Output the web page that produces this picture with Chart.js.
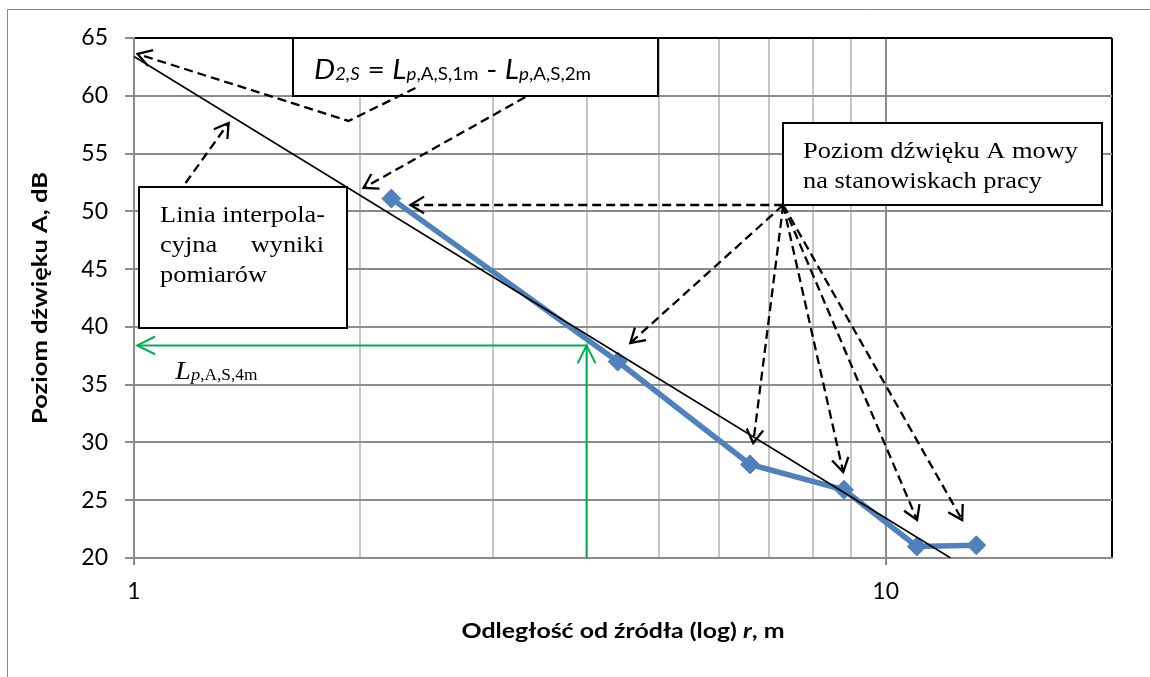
<!DOCTYPE html>
<html><head><meta charset="utf-8">
<script src="https://cdn.jsdelivr.net/npm/chart.js@4.4.1/dist/chart.umd.min.js"></script>
<style>html,body{margin:0;padding:0;background:#fff;}#wrap{width:1150px;height:677px;}</style>
</head><body><div id="wrap"><canvas id="c" width="1150" height="677"></canvas></div>
<script>
// ---- data ----
const distances = [2.2, 4.4, 6.6, 8.8, 11.0, 13.2];
const levels = [51.1, 37.0, 28.1, 25.9, 21.0, 21.1];
const fitDistances = [1, 12.2];
const fitLevels = [63.4, 20];
const refDistance = 4;
const refLevel = 38.4;
const axisMinLevel = 20;
const yTickValues = [20, 25, 30, 35, 40, 45, 50, 55, 60, 65];
const xTickValues = [1, 2, 3, 4, 5, 6, 7, 8, 9, 10, 20];
const xTickLabels = ['1', '', '', '', '', '', '', '', '', '10', ''];

// annotation geometry (data units)
const boxFormula = {x1: 1.625, x2: 4.98, y1: 60, y2: 65};
const boxSpeech = {x1: 7.305, x2: 19.41, y1: 50.55, y2: 57.64};
const boxFit = {x1: 1.014, x2: 1.922, y1: 39.9, y2: 52.11};
const dashedArrows = [
  [[2.368, 60.67], [1.929, 57.82], [1.011, 63.62]],
  [[3.316, 59.89], [2.020, 52.02]],
  [[1.171, 52.45], [1.336, 57.64]],
  [[7.305, 50.55], [2.332, 50.55]],
  [[7.305, 50.55], [4.574, 38.61]],
  [[7.305, 50.55], [6.664, 29.95]],
  [[7.305, 50.55], [8.779, 27.44]],
  [[7.305, 50.55], [11.01, 23.29]],
  [[7.305, 50.55], [12.64, 23.29]]
];
const labelL4 = {x: 1.135, y: 35.5};

const GRID = '#8c8c8c', MINOR = '#c6c6c6';

function runs(ctx, x, y, parts, target) {
  let w = 0;
  parts.forEach(p => { ctx.font = p.f; p.w = ctx.measureText(p.t).width; w += p.w; });
  const sx = target ? target / w : 1;
  ctx.save(); ctx.translate(x, y); ctx.scale(sx, 1);
  ctx.textBaseline = 'alphabetic'; ctx.textAlign = 'left';
  let cx = 0;
  parts.forEach(p => { ctx.font = p.f; ctx.fillText(p.t, cx, p.dy || 0); cx += p.w; });
  ctx.restore();
  return sx;
}
function head(ctx, fx, fy, tx, ty, len, ang) {
  const d = Math.atan2(ty - fy, tx - fx);
  ctx.beginPath();
  ctx.moveTo(tx - len * Math.cos(d - ang), ty - len * Math.sin(d - ang));
  ctx.lineTo(tx, ty);
  ctx.lineTo(tx - len * Math.cos(d + ang), ty - len * Math.sin(d + ang));
  ctx.stroke();
}

const annotPlugin = {
  id: 'annot',
  beforeDraw(chart) {
    const ctx = chart.ctx;
    ctx.save();
    ctx.fillStyle = '#fff'; ctx.fillRect(0, 0, chart.width, chart.height);
    ctx.strokeStyle = '#868686'; ctx.lineWidth = 1;
    ctx.beginPath(); ctx.moveTo(7.5, 677); ctx.lineTo(7.5, 9.5); ctx.lineTo(1150, 9.5); ctx.stroke();
    ctx.restore();
  },
  beforeDatasetsDraw(chart) {
    const ctx = chart.ctx, xs = chart.scales.x, ys = chart.scales.y;
    const box = b => {
      const l = Math.round(xs.getPixelForValue(b.x1)), r = Math.round(xs.getPixelForValue(b.x2));
      const t = Math.round(ys.getPixelForValue(b.y2)), bt = Math.round(ys.getPixelForValue(b.y1));
      ctx.fillStyle = '#fff'; ctx.fillRect(l, t, r - l, bt - t);
      ctx.strokeStyle = '#000'; ctx.lineWidth = 2; ctx.strokeRect(l, t, r - l, bt - t);
      return {l, r, t, b: bt};
    };
    ctx.save();
    const b1 = box(boxFormula), b2 = box(boxSpeech), b3 = box(boxFit);
    ctx.fillStyle = '#000';
    const big = 'italic 27px Lato', sub = '17px Lato', subi = 'italic 17px Lato', reg = '27px Lato';
    runs(ctx, b1.l + 21, b1.t + 41, [
      {t: 'D', f: big}, {t: '2,S', f: subi, dy: 1}, {t: ' = ', f: reg},
      {t: 'L', f: big}, {t: 'p', f: subi, dy: 1}, {t: ',A,S,1m', f: sub, dy: 1}, {t: ' - ', f: reg},
      {t: 'L', f: big}, {t: 'p', f: subi, dy: 1}, {t: ',A,S,2m', f: sub, dy: 1}
    ], 277);
    const serif = '23px "Liberation Serif"';
    const sx = runs(ctx, b2.l + 20, b2.t + 35, [{t: 'Poziom dźwięku A mowy', f: serif}], 275);
    ctx.save(); ctx.translate(b2.l + 20, b2.t + 65); ctx.scale(sx, 1); ctx.font = serif; ctx.fillText('na stanowiskach pracy', 0, 0); ctx.restore();
    const sx3 = runs(ctx, b3.l + 21, b3.t + 35, [{t: 'Linia interpola-', f: serif}], 165);
    ctx.save(); ctx.translate(b3.l + 21, b3.t + 65); ctx.scale(sx3, 1); ctx.font = serif; ctx.fillText('cyjna', 0, 0); ctx.restore();
    ctx.save(); ctx.translate(b3.r - 23, b3.t + 65); ctx.scale(sx3, 1); ctx.font = serif; ctx.textAlign = 'right'; ctx.fillText('wyniki', 0, 0); ctx.restore();
    ctx.save(); ctx.translate(b3.l + 21, b3.t + 95); ctx.scale(sx3, 1); ctx.font = serif; ctx.fillText('pomiarów', 0, 0); ctx.restore();
    // L p,A,S,4m
    runs(ctx, xs.getPixelForValue(labelL4.x), ys.getPixelForValue(labelL4.y), [
      {t: 'L', f: 'italic 26px "Liberation Serif"'}, {t: 'p', f: 'italic 17px "Liberation Serif"', dy: 1},
      {t: ',A,S,4m', f: '16px "Liberation Serif"', dy: 1}
    ], 82);
    ctx.restore();
  },
  afterDatasetsDraw(chart) {
    const ctx = chart.ctx, xs = chart.scales.x, ys = chart.scales.y, ca = chart.chartArea;
    ctx.save();
    ctx.strokeStyle = '#000'; ctx.lineWidth = 2.3;
    dashedArrows.forEach(a => {
      const p = a.map(q => [xs.getPixelForValue(q[0]), ys.getPixelForValue(q[1])]);
      ctx.setLineDash([9, 5]);
      ctx.beginPath(); ctx.moveTo(p[0][0], p[0][1]);
      for (let i = 1; i < p.length; i++) ctx.lineTo(p[i][0], p[i][1]);
      ctx.stroke();
      ctx.setLineDash([]);
      const n = p.length;
      head(ctx, p[n - 2][0], p[n - 2][1], p[n - 1][0], p[n - 1][1], 16, 0.55);
    });
    // green arrowheads
    ctx.strokeStyle = '#00B050'; ctx.lineWidth = 2;
    const gx = xs.getPixelForValue(refDistance), gy = ys.getPixelForValue(refLevel);
    head(ctx, gx, ys.getPixelForValue(axisMinLevel), gx, gy, 20, 0.46);
    const lx = xs.getPixelForValue(1.01);
    head(ctx, gx, gy, lx, gy, 20, 0.46);
    // axis titles
    ctx.fillStyle = '#000';
    const cx = (ca.left + ca.right) / 2;
    const parts = [{t: 'Odległość od źródła (log) ', f: 'bold 20px Lato'}, {t: 'r', f: 'italic bold 20px Lato'}, {t: ', m', f: 'bold 20px Lato'}];
    runs(ctx, cx - 161.5, ca.bottom + 80, parts, 323);
    ctx.save();
    ctx.translate(47, (ca.top + ca.bottom) / 2);
    ctx.rotate(-Math.PI / 2);
    ctx.font = 'bold 20px Lato';
    const w = ctx.measureText('Poziom dźwięku A, dB').width;
    ctx.scale(252 / w, 1);
    ctx.textAlign = 'center'; ctx.textBaseline = 'alphabetic';
    ctx.fillText('Poziom dźwięku A, dB', 0, 0);
    ctx.restore();
    ctx.restore();
  }
};

const pts = (xa, ya) => xa.map((x, i) => ({x, y: ya[i]}));

new Chart(document.getElementById('c'), {
  type: 'scatter',
  data: {
    datasets: [
      {data: pts(fitDistances, fitLevels), showLine: true, borderColor: '#000', borderWidth: 1.6, pointRadius: 0},
      {data: pts(distances, levels), showLine: true, borderColor: '#4F81BD', backgroundColor: '#4F81BD', borderWidth: 5.5,
        pointStyle: 'rectRot', pointRadius: 9.5, pointBorderWidth: 1, pointBorderColor: '#4F81BD', pointBackgroundColor: '#4F81BD'},
      {data: [{x: refDistance, y: refLevel}, {x: 1.01, y: refLevel}], showLine: true, borderColor: '#00B050', borderWidth: 2, pointRadius: 0},
      {data: [{x: refDistance, y: axisMinLevel}, {x: refDistance, y: refLevel}], showLine: true, borderColor: '#00B050', borderWidth: 2, pointRadius: 0}
    ]
  },
  options: {
    responsive: false, animation: false, devicePixelRatio: 1,
    layout: {padding: {top: 38, right: 38, left: 0, bottom: 0}},
    plugins: {legend: {display: false}, tooltip: {enabled: false}},
    scales: {
      x: {
        type: 'logarithmic', min: 1, max: 20, position: 'bottom',
        afterBuildTicks: s => { s.ticks = xTickValues.map(v => ({value: v})); },
        afterFit: s => { s.height = 119; },
        ticks: {autoSkip: false, maxRotation: 0, padding: 13, color: '#000', font: {family: 'Lato', size: 23},
          callback: (v) => xTickLabels[xTickValues.indexOf(v)] ?? ''},
        grid: {
          color: c => c.tick && c.tick.value === 20 ? '#000' : (c.tick && (c.tick.value === 1 || c.tick.value === 10) ? GRID : MINOR),
          lineWidth: 2, tickLength: 7,
          tickColor: c => c.tick && (c.tick.value === 1 || c.tick.value === 10) ? GRID : 'rgba(0,0,0,0)'
        },
        border: {color: GRID, width: 2}
      },
      y: {
        min: 20, max: 65,
        afterBuildTicks: s => { s.ticks = yTickValues.map(v => ({value: v})); },
        afterFit: s => { s.width = 134; },
        ticks: {padding: 17, color: '#000', font: {family: 'Lato', size: 23}},
        grid: {color: c => c.tick && c.tick.value === 65 ? '#000' : GRID, lineWidth: 2, tickLength: 9, tickColor: GRID},
        border: {color: GRID, width: 2}
      }
    }
  },
  plugins: [annotPlugin]
});
</script></body></html>
